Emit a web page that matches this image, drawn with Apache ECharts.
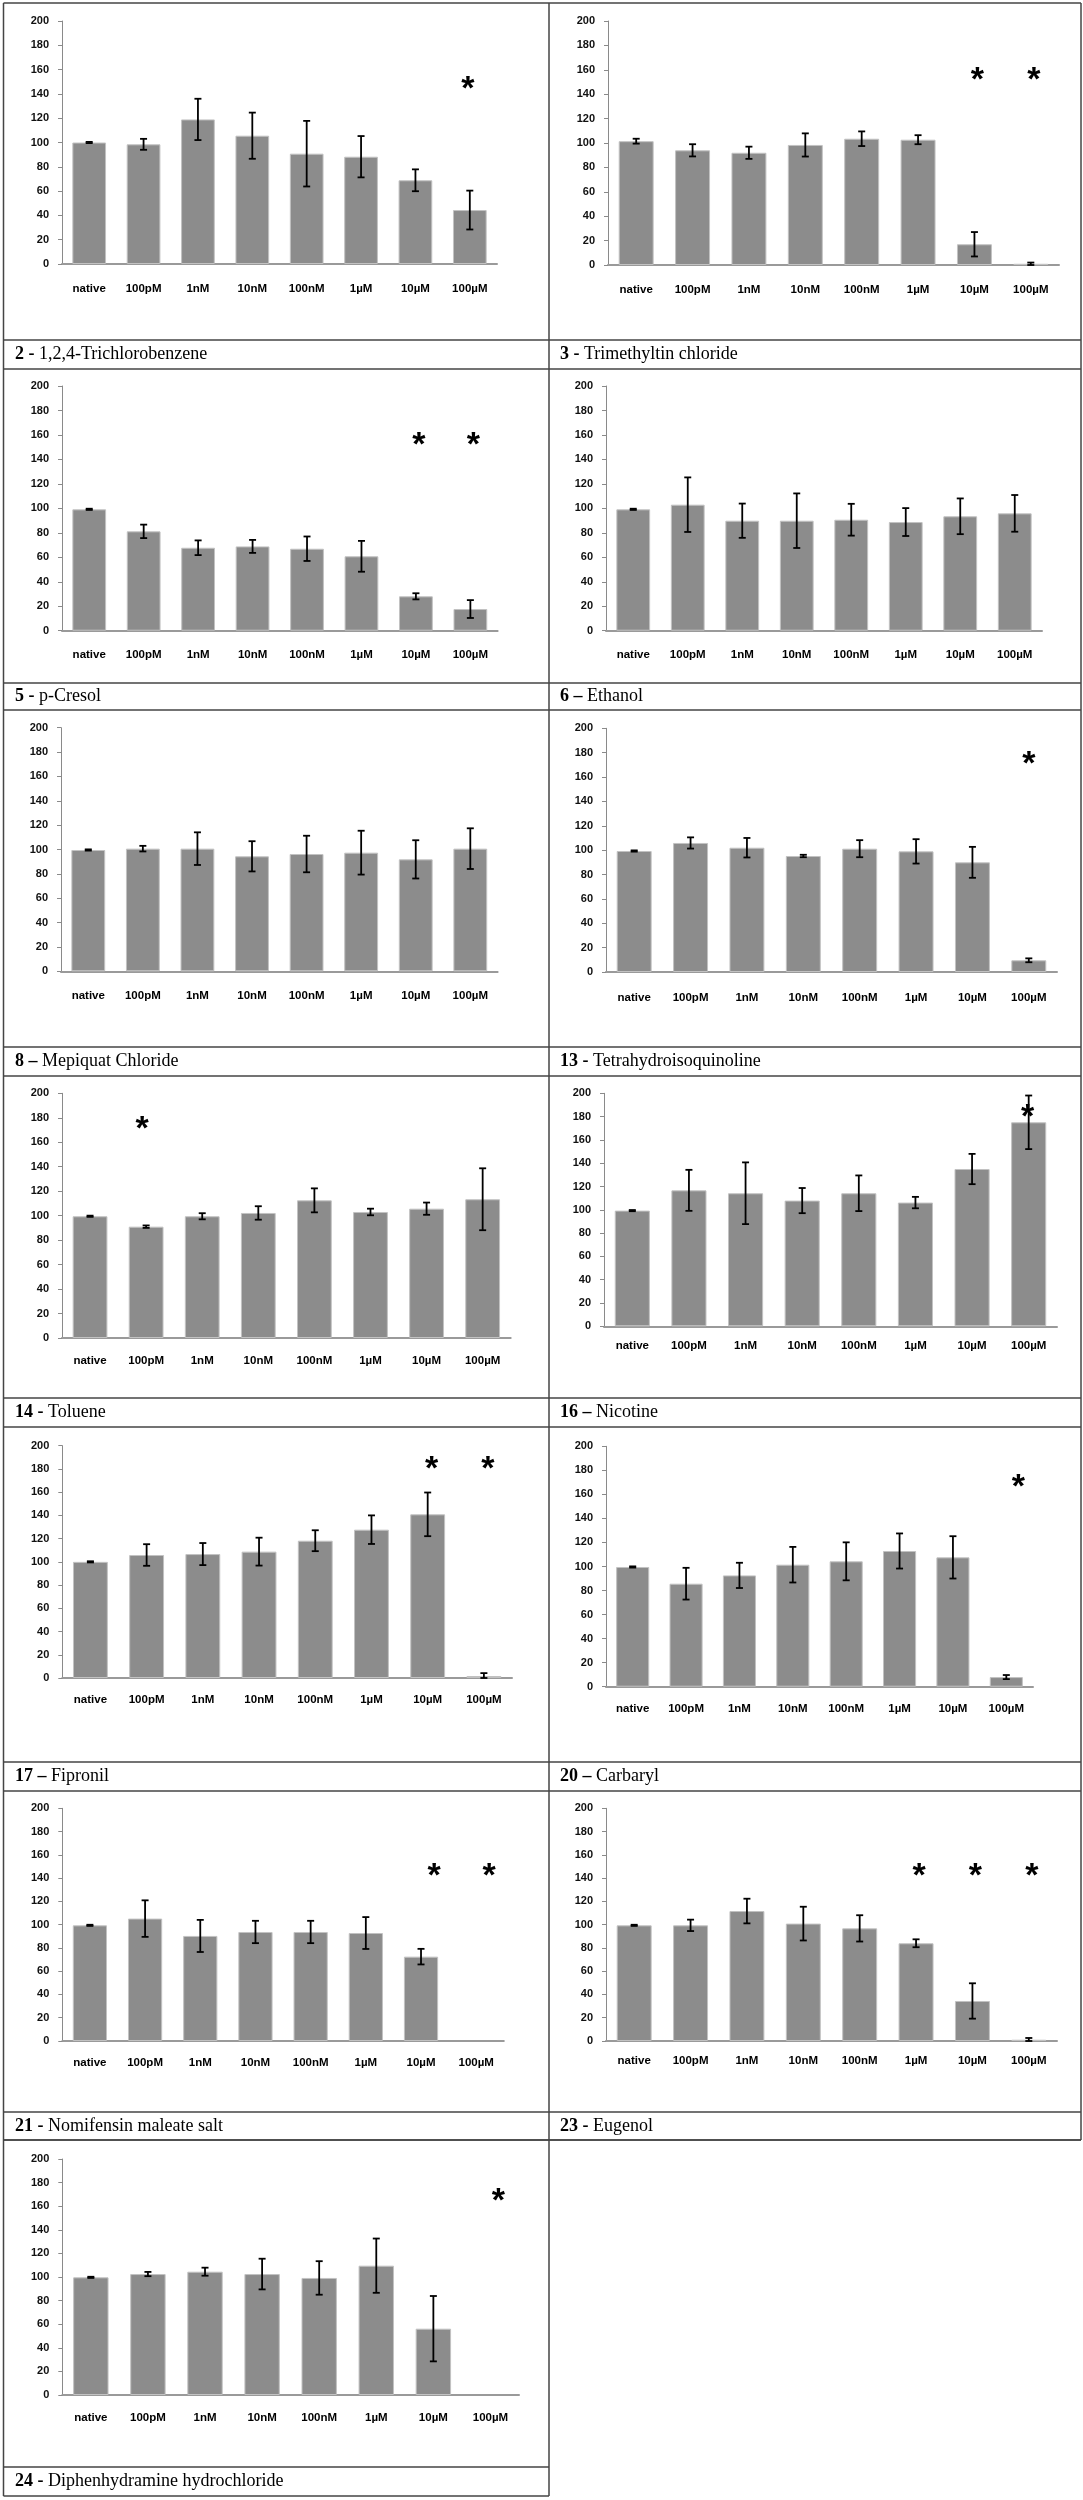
<!DOCTYPE html>
<html>
<head>
<meta charset="utf-8">
<script src="https://cdn.jsdelivr.net/npm/echarts@6/dist/echarts.min.js"></script>
<style>
html,body{margin:0;padding:0;background:#fff;}
#chart{width:1083px;height:2500px;}
</style>
</head>
<body>
<div id="chart"></div>
<script>
// ---------- data ----------
const categories = ['native', '100pM', '1nM', '10nM', '100nM', '1µM', '10µM', '100µM'];
const yMin = 0, yMax = 200, yStep = 20;

const panelNumbers = ['2 -', '3 -', '5 -', '6 –', '8 –', '13 -', '14 -', '16 –', '17 –', '20 –', '21 -', '23 -', '24 -'];
const panelNames = ['1,2,4-Trichlorobenzene', 'Trimethyltin chloride', 'p-Cresol', 'Ethanol', 'Mepiquat Chloride',
  'Tetrahydroisoquinoline', 'Toluene', 'Nicotine', 'Fipronil', 'Carbaryl', 'Nomifensin maleate salt', 'Eugenol',
  'Diphenhydramine hydrochloride'];

const mean2  = [100, 98.5, 119, 105.6, 90.8, 88.3, 68.9, 44.4];
const err2   = [0.5, 4.5, 17, 19, 27, 17, 9, 16];
const mean3  = [101.5, 94, 92, 98.4, 103.5, 102.7, 17, 1];
const err3   = [2, 5, 5, 9.5, 6, 3.7, 10, 1];
const mean5  = [99.2, 81.2, 67.8, 68.9, 67, 60.8, 28.1, 17.7];
const err5   = [0.5, 5.5, 6, 5.3, 10, 12.6, 2.5, 7.3];
const mean6  = [99.2, 103, 89.9, 89.9, 90.7, 88.8, 93.5, 95.9];
const err6   = [0.5, 22.3, 14, 22.3, 13, 11.4, 14.6, 15];
const mean8  = [99.6, 100.7, 100.7, 94.4, 96.3, 97.4, 91.9, 100.7];
const err8   = [0.5, 2.3, 13.4, 12.4, 15, 18, 15.7, 16.7];
const mean13 = [99.3, 105.9, 102, 95.2, 101.2, 99, 90, 9.6];
const err13  = [0.5, 4.6, 8, 1, 7, 10, 12.7, 1.6];
const mean14 = [99.5, 91, 99.5, 102.2, 112.5, 103, 105.7, 113.4];
const err14  = [0.5, 1, 2.5, 5.5, 9.8, 2.7, 5, 25.3];
const mean16 = [99.3, 116.7, 114.2, 107.9, 114.2, 106.2, 135, 175.1];
const err16  = [0.5, 17.6, 26.5, 10.8, 15.3, 4.9, 13, 23];
const mean17 = [100, 105.9, 106.7, 108.8, 118.2, 127.7, 140.9, 1.7];
const err17  = [0.5, 9.3, 9.5, 12, 9, 12.3, 18.8, 2.5];
const mean20 = [99.6, 85.7, 92.6, 101.5, 104.3, 112.9, 107.6, 8];
const err20  = [0.5, 13.2, 10.5, 14.8, 15.8, 14.6, 17.6, 1.7];
const mean21 = [99.4, 105.2, 90.3, 93.7, 93.7, 92.8, 72.5, null];
const err21  = [0.5, 15.7, 13.8, 9.6, 9.6, 13.7, 6.7, null];
const mean23 = [99.4, 99.4, 111.7, 100.9, 96.8, 84, 34.4, 1.1];
const err23  = [0.5, 4.9, 10.6, 14.5, 11.3, 3.4, 15.2, 1.5];
const mean24 = [99.7, 102.5, 104.5, 102.5, 99.2, 109.6, 56.2, null];
const err24  = [0.5, 1.8, 3.4, 13, 14.2, 23, 27.7, null];

// significance marks: [category index, height]
const star2  = [[7, 150]];
const star3  = [[6, 158], [7, 158]];
const star5  = [[6, 158], [7, 158]];
const star6  = [];
const star8  = [];
const star13 = [[7, 177]];
const star14 = [[1, 177]];
const star16 = [[7, 186]];
const star17 = [[6, 186], [7, 186]];
const star20 = [[7, 172]];
const star21 = [[6, 148], [7, 148]];
const star23 = [[5, 148], [6, 148], [7, 148]];
const star24 = [[7, 171]];

const panelMeans = [mean2, mean3, mean5, mean6, mean8, mean13, mean14, mean16, mean17, mean20, mean21, mean23, mean24];
const panelErrs  = [err2, err3, err5, err6, err8, err13, err14, err16, err17, err20, err21, err23, err24];
const panelStars = [star2, star3, star5, star6, star8, star13, star14, star16, star17, star20, star21, star23, star24];

// ---------- layout (pixels) ----------
// l: y-axis x, r: x-axis end, t: y of 200, b: y of 0, m: x label margin, sdx: star shift
const layout = [
  {l: 62,   r: 497,   t: 21,     b: 264,    m: 19, sdx: -2},
  {l: 608,  r: 1059,  t: 21,     b: 265,    m: 19, sdx: 3},
  {l: 62,   r: 497.6, t: 386,    b: 630.7,  m: 18, sdx: 3},
  {l: 606,  r: 1042,  t: 386,    b: 630.7,  m: 18, sdx: 0},
  {l: 61,   r: 497.6, t: 727.7,  b: 971.3,  m: 19, sdx: 0},
  {l: 606,  r: 1057,  t: 728.3,  b: 972,    m: 20, sdx: 0},
  {l: 62,   r: 510.7, t: 1093.3, b: 1338,   m: 17, sdx: -4},
  {l: 604,  r: 1057,  t: 1093.3, b: 1326.3, m: 13.5, sdx: -1},
  {l: 62.3, r: 512,   t: 1445.7, b: 1678,   m: 16, sdx: 4},
  {l: 606,  r: 1033,  t: 1446.3, b: 1686.7, m: 16.5, sdx: 12},
  {l: 62.3, r: 503.8, t: 1808.3, b: 2041,   m: 16, sdx: 13},
  {l: 606,  r: 1057,  t: 1808.3, b: 2041,   m: 14, sdx: 3},
  {l: 62.3, r: 519,   t: 2159,   b: 2395,   m: 16.5, sdx: 8}
];
const labelRows = [[340, 369], [683, 710], [1047, 1076], [1398, 1427], [1762, 1791], [2112, 2140], [2467, 2496]];
const colX = [3.5, 549, 1081];

const BAR = '#8c8c8c';
const AXIS_FONT = 'Liberation Sans, Arial, sans-serif';
const SERIF = 'Liberation Serif, Times New Roman, serif';

const grid = [], xAxis = [], yAxis = [], series = [], title = [], graphic = [];

layout.forEach((p, i) => {
  grid.push({left: p.l, top: p.t, width: p.r - p.l, height: p.b - p.t, containLabel: false});
  xAxis.push({
    type: 'category', gridIndex: i, data: categories,
    axisLine: {show: true, lineStyle: {color: '#9a9a9a', width: 2}},
    axisTick: {show: false},
    axisLabel: {interval: 0, margin: p.m, color: '#000', fontWeight: 'bold', fontSize: 11.5, fontFamily: AXIS_FONT},
    splitLine: {show: false}
  });
  yAxis.push({
    type: 'value', gridIndex: i, min: yMin, max: yMax, interval: yStep,
    axisLine: {show: true, lineStyle: {color: '#8a8a8a', width: 1}},
    axisTick: {show: true, length: 4, lineStyle: {color: '#8a8a8a'}},
    axisLabel: {margin: 13, color: '#111', fontWeight: 'bold', fontSize: 11, fontFamily: AXIS_FONT},
    splitLine: {show: false}
  });
  const means = panelMeans[i], errs = panelErrs[i];
  series.push({
    type: 'bar', xAxisIndex: i, yAxisIndex: i, data: means, barWidth: '62%',
    itemStyle: {color: BAR, borderColor: '#c2c2c2', borderWidth: 1},
    silent: true, animation: false
  });
  const errData = [];
  means.forEach((m, k) => { if (m != null && errs[k] != null) errData.push([k, m - errs[k], m + errs[k]]); });
  series.push({
    type: 'custom', xAxisIndex: i, yAxisIndex: i, data: errData, silent: true, animation: false, z: 5,
    renderItem: function (params, api) {
      const lo = api.coord([api.value(0), Math.max(api.value(1), 0)]);
      const hi = api.coord([api.value(0), api.value(2)]);
      const hw = 3.5;
      const st = {stroke: '#000', lineWidth: 1.8};
      return {type: 'group', children: [
        {type: 'line', shape: {x1: hi[0], y1: hi[1], x2: lo[0], y2: lo[1]}, style: st},
        {type: 'line', shape: {x1: hi[0] - hw, y1: hi[1], x2: hi[0] + hw, y2: hi[1]}, style: st},
        {type: 'line', shape: {x1: lo[0] - hw, y1: lo[1], x2: lo[0] + hw, y2: lo[1]}, style: st}
      ]};
    }
  });
  const sdx = p.sdx;
  series.push({
    type: 'custom', xAxisIndex: i, yAxisIndex: i, data: panelStars[i], silent: true, animation: false, z: 6,
    renderItem: function (params, api) {
      const pt = api.coord([api.value(0), api.value(1)]);
      return {type: 'text', x: pt[0] + sdx, y: pt[1] + 8,
        style: {text: '*', font: 'bold 34px Liberation Sans, Arial, sans-serif', fill: '#000',
          textAlign: 'center', textVerticalAlign: 'middle', align: 'center', verticalAlign: 'middle'}};
    }
  });
  // title in label row
  const row = Math.floor(i / 2), col = i % 2;
  const lr = labelRows[row];
  title.push({
    text: '{b|' + panelNumbers[i] + '} {n|' + panelNames[i] + '}',
    left: col === 0 ? 15 : 560,
    top: (lr[0] + lr[1]) / 2 - 11,
    padding: 0,
    textStyle: {
      fontFamily: SERIF, fontSize: 18, fontWeight: 'normal', color: '#000', lineHeight: 22,
      rich: {
        b: {fontFamily: SERIF, fontSize: 18, fontWeight: 'bold', color: '#000', lineHeight: 22},
        n: {fontFamily: SERIF, fontSize: 18, fontWeight: 'normal', color: '#000', lineHeight: 22}
      }
    }
  });
});

// table borders
const stroke = {stroke: '#444', lineWidth: 1.5};
function hline(y, x1, x2) { graphic.push({type: 'line', shape: {x1: x1, y1: y, x2: x2, y2: y}, style: stroke, silent: true}); }
function vline(x, y1, y2) { graphic.push({type: 'line', shape: {x1: x, y1: y1, x2: x, y2: y2}, style: stroke, silent: true}); }
hline(3, colX[0], colX[2]);
labelRows.forEach((lr, r) => {
  const right = r === labelRows.length - 1 ? colX[1] : colX[2];
  hline(lr[0], colX[0], right);
  hline(lr[1], colX[0], right);
});
hline(labelRows[5][1], colX[0], colX[2]);
vline(colX[0], 3, labelRows[6][1]);
vline(colX[1], 3, labelRows[6][1]);
vline(colX[2], 3, labelRows[5][1]);

const chart = echarts.init(document.getElementById('chart'), null, {renderer: 'canvas'});
chart.setOption({
  backgroundColor: '#fff',
  animation: false,
  title: title,
  grid: grid,
  xAxis: xAxis,
  yAxis: yAxis,
  series: series,
  graphic: {elements: graphic}
});
</script>
</body>
</html>
